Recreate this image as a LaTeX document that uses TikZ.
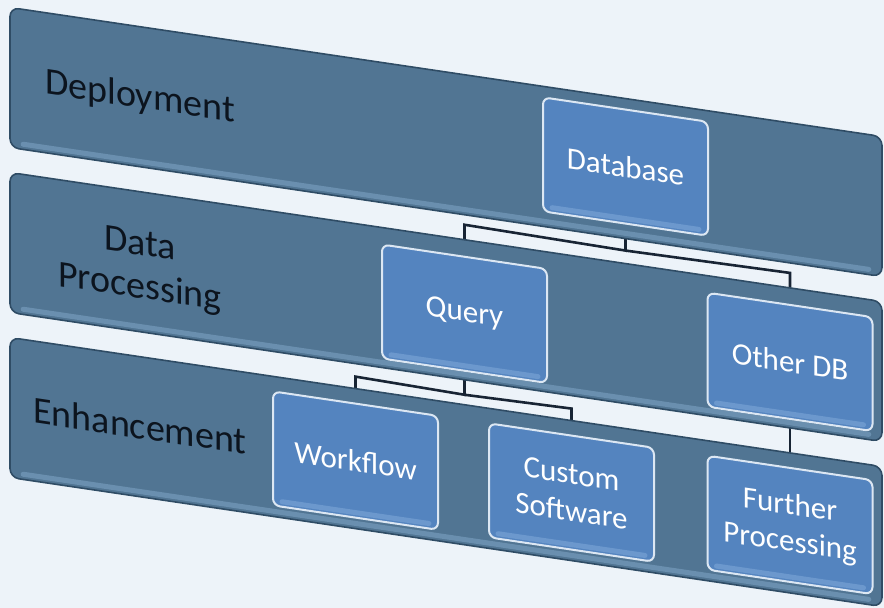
\documentclass[tikz,border=0pt]{standalone}
\usepackage{fontspec}
\setmainfont{Carlito}
\usepackage{xcolor}
\usetikzlibrary{calc, backgrounds}

\definecolor{pagebg}{RGB}{237,243,249}
\definecolor{bandfill}{RGB}{81,117,147}
\definecolor{banddraw}{RGB}{47,76,101}
\definecolor{bandlight}{RGB}{128,166,198}
\definecolor{boxfill}{RGB}{84,132,191}
\definecolor{boxdraw}{RGB}{220,231,243}
\definecolor{boxlight}{RGB}{128,170,218}
\definecolor{linkcol}{RGB}{24,36,52}
\definecolor{labelcol}{RGB}{12,20,30}
\pagecolor{pagebg}

\begin{document}
\begin{tikzpicture}[
    x=1pt, y=-1pt,
    band/.style={
      rectangle,
      draw=banddraw,
      fill=bandfill,
      line width=1.6pt,
      rounded corners=9pt,
      minimum width=872pt,
      minimum height=140pt,
      transform shape
    },
    stepbox/.style={
      rectangle,
      draw=boxdraw,
      fill=boxfill,
      line width=2pt,
      rounded corners=7pt,
      align=center,
      text=white,
      font=\fontsize{31}{37}\selectfont,
      minimum width=165pt,
      minimum height=114pt,
      transform shape
    },
    bandlabel/.style={
      align=center,
      inner sep=0pt,
      text=labelcol,
      font=\fontsize{38}{43}\selectfont,
      transform shape
    },
    link/.style={
      draw=linkcol,
      line width=2.6pt
    },
    glow/.style={
      line width=5pt,
      line cap=round,
      opacity=0.55
    }
]
\useasboundingbox (0,0) rectangle (884,608);

\begin{scope}[yslant=-0.148]

% 1. BANDS
\node[band] (deployBand)  at (446,76)  {};
\node[band] (procBand)    at (446,241) {};
\node[band] (enhanceBand) at (446,406) {};

% lighter bottom edge of each band
\foreach \b in {deployBand, procBand, enhanceBand}
  \draw[glow, bandlight] ([shift={(14,-6)}]\b.south west) -- ([shift={(-14,-6)}]\b.south east);

\node[bandlabel] (deployLabel)  at (140,77)  {Deployment};
\node[bandlabel] (procLabel)    at (140,247) {Data\\Processing};
\node[bandlabel] (enhanceLabel) at (140,405) {Enhancement};

% 2. BOXES
\node[stepbox] (database) at (625.5,74) {Database};

\node[stepbox] (query)   at (464.5,245) {Query};
\node[stepbox] (otherDB) at (790,245)   {Other DB};

\node[stepbox] (workflow)    at (355.5,408) {Workflow};
\node[stepbox] (customSW)    at (571.5,408) {Custom\\Software};
\node[stepbox] (furtherProc) at (790,408)   {Further\\Processing};

\foreach \b in {database, query, otherDB, workflow, customSW, furtherProc}
  \draw[glow, boxlight] ([shift={(10,-6)}]\b.south west) -- ([shift={(-10,-6)}]\b.south east);

% 3. LINKS (behind the bands, so only the gaps show them)
\begin{scope}[on background layer]
\draw[link] (database.south) -- ++(0,26) coordinate (dbJoin)
  -- ($(query.north)+(0,-31)$) -- (query.north);
\draw[link] (dbJoin) -- ($(otherDB.north)+(0,-31)$) -- (otherDB.north);

\draw[link] (query.south) -- ++(0,23) coordinate (queryJoin)
  -- ($(workflow.north)+(0,-26)$) -- (workflow.north);
\draw[link] (queryJoin) -- ($(customSW.north)+(0,-26)$) -- (customSW.north);

\draw[link] (otherDB.south) -- (furtherProc.north);
\end{scope}

\end{scope}
\end{tikzpicture}
\end{document}
